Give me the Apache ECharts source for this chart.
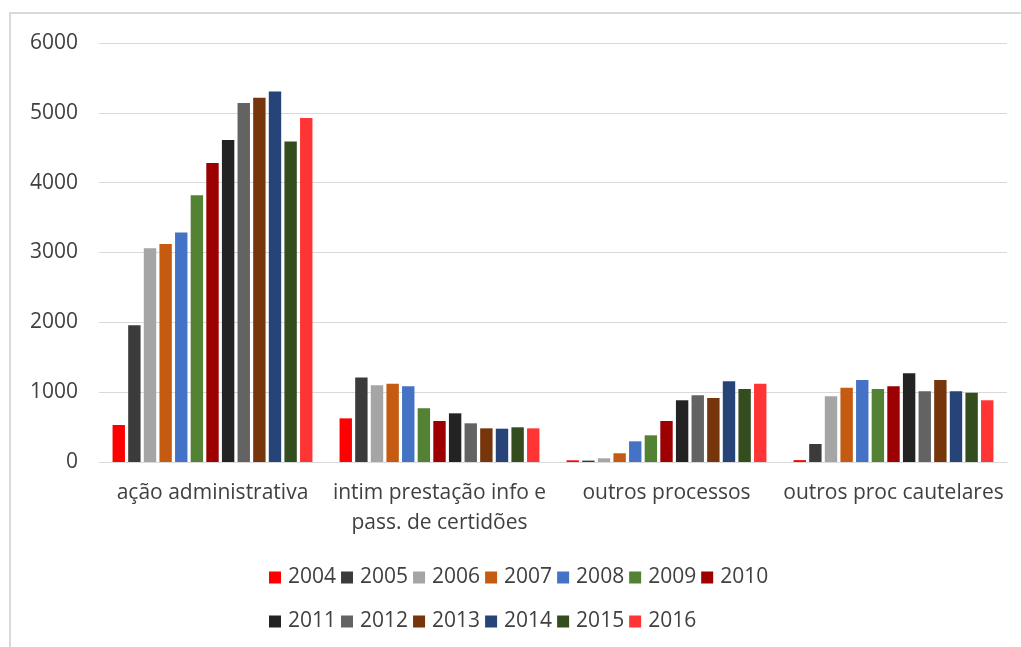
<!DOCTYPE html>
<html>
<head>
<meta charset="utf-8">
<script src="https://cdn.jsdelivr.net/npm/echarts@6/dist/echarts.min.js"></script>
<style>html,body{margin:0;padding:0;background:#fff}#c{width:1021px;height:647px}</style>
</head>
<body>
<div id="c"></div>
<script>
const categories = ['ação administrativa', 'intim prestação info e\npass. de certidões', 'outros processos', 'outros proc cautelares'];
const years = ['2004','2005','2006','2007','2008','2009','2010','2011','2012','2013','2014','2015','2016'];
const colors = ['#FF0000','#3B3B3B','#A5A5A5','#C55A11','#4472C4','#548235','#9C0000','#232323','#636363','#76350A','#264478','#344D1F','#FF3535'];
const v2004 = [530, 625, 24, 27];
const v2005 = [1960, 1210, 20, 258];
const v2006 = [3060, 1100, 53, 940];
const v2007 = [3120, 1120, 125, 1065];
const v2008 = [3285, 1085, 296, 1175];
const v2009 = [3820, 770, 382, 1046];
const v2010 = [4280, 587, 587, 1084];
const v2011 = [4610, 697, 884, 1270];
const v2012 = [5140, 554, 955, 1013];
const v2013 = [5215, 482, 917, 1175];
const v2014 = [5305, 477, 1156, 1013];
const v2015 = [4590, 497, 1046, 993];
const v2016 = [4925, 482, 1122, 884];
const values = [v2004,v2005,v2006,v2007,v2008,v2009,v2010,v2011,v2012,v2013,v2014,v2015,v2016];
const yTicks = {min: 0, max: 6000, interval: 1000};

const font = '"Open Sans", sans-serif';
const textColor = '#404040';
const chart = echarts.init(document.getElementById('c'), null, {renderer: 'canvas'});
const legendCommon = {
  orient: 'horizontal', left: 269, itemWidth: 12, itemHeight: 12, itemGap: 5,
  icon: 'rect', textStyle: {fontFamily: font, fontSize: 21, color: textColor, padding: [0,0,0,2]},
  padding: 0
};
chart.setOption({
  animation: false,
  backgroundColor: '#fff',
  color: colors,
  graphic: [{type: 'rect', shape: {x: 10, y: 13, width: 1030, height: 660},
    style: {fill: 'none', stroke: '#d9d9d9', lineWidth: 2}, silent: true}],
  grid: {left: 99, right: 14, top: 43, bottom: 185, containLabel: false},
  legend: [
    Object.assign({}, legendCommon, {top: 567, data: years.slice(0, 7)}),
    Object.assign({}, legendCommon, {top: 611, data: years.slice(7)})
  ],
  xAxis: {
    type: 'category', data: categories,
    axisLine: {lineStyle: {color: '#d9d9d9', width: 1}},
    axisTick: {show: false},
    axisLabel: {fontFamily: font, fontSize: 21, color: textColor, lineHeight: 30, margin: 16, interval: 0}
  },
  yAxis: {
    type: 'value', min: yTicks.min, max: yTicks.max, interval: yTicks.interval,
    axisLine: {show: false}, axisTick: {show: false},
    splitLine: {lineStyle: {color: '#d9d9d9', width: 1}},
    axisLabel: {fontFamily: font, fontSize: 21, color: textColor, margin: 21, formatter: v => String(v)}
  },
  series: years.map((y, i) => ({
    name: y, type: 'bar', data: values[i], barWidth: 12.4, barGap: '26%',
    itemStyle: {color: colors[i]}
  }))
});
</script>
</body>
</html>
